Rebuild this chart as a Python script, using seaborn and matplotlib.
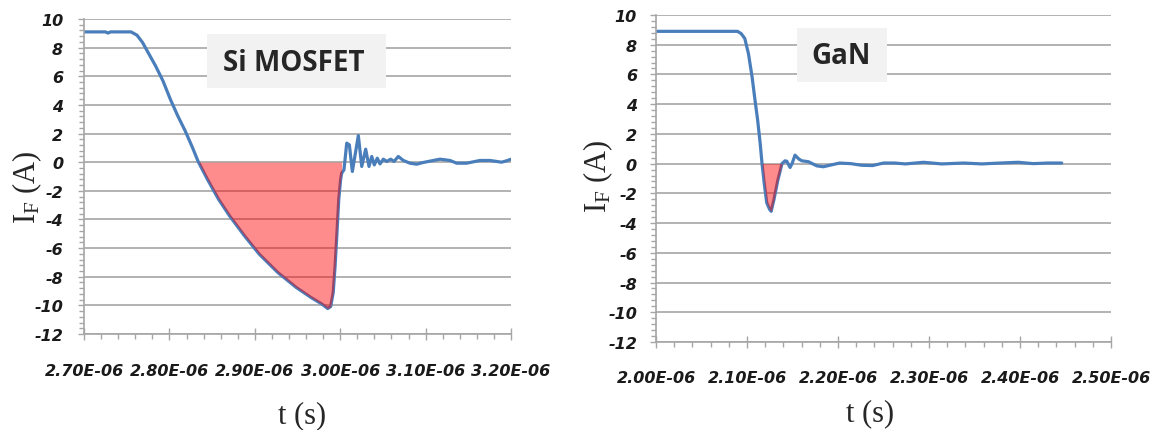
import numpy as np
import pandas as pd
import seaborn as sns
import matplotlib
matplotlib.use('Agg')
import matplotlib.pyplot as plt
from matplotlib.ticker import MultipleLocator, FuncFormatter
from matplotlib.patches import Rectangle

# ---- data (time in microseconds, current in A) ----
si_t = [2.700, 2.725, 2.728, 2.731, 2.755, 2.762, 2.7685, 2.775, 2.7837, 2.7924,
        2.801, 2.8097, 2.8184, 2.827, 2.8336, 2.8444, 2.8574, 2.8704, 2.8878, 2.9051,
        2.9268, 2.9485, 2.9658, 2.9788, 2.9853, 2.9888, 2.9918, 2.994, 2.9962, 2.9983,
        3.0005, 3.0017, 3.0044, 3.0076, 3.0107, 3.0142, 3.0212, 3.0252, 3.0298, 3.0337,
        3.0369, 3.0399, 3.0434, 3.0466, 3.0505, 3.0545, 3.0591, 3.063, 3.068, 3.0739,
        3.0817, 3.0896, 3.0973, 3.109, 3.1169, 3.1286, 3.1364, 3.148, 3.1637, 3.1754,
        3.189, 3.195, 3.2]
si_i = [9.10, 9.10, 9.02, 9.10, 9.10, 8.87, 8.36, 7.66, 6.73, 5.68,
        4.40, 3.24, 2.19, 1.02, 0.05, -1.19, -2.58, -3.75, -5.14, -6.42,
        -7.70, -8.75, -9.45, -9.92, -10.22, -10.08, -9.10, -7.24, -4.91, -2.58,
        -1.19, -0.77, -0.53, 1.33, 1.21, -0.65, 1.86, -0.30, 0.91, -0.30,
        0.40, -0.19, 0.28, -0.12, 0.21, 0.05, 0.21, 0.05, 0.40, 0.12,
        -0.07, -0.14, -0.02, 0.12, 0.21, 0.12, -0.07, -0.07, 0.12, 0.12,
        0.0, 0.10, 0.21]
si_fill = [2.8336, 3.0017]

gan_t = [2.000, 2.0895, 2.0935, 2.0975, 2.1015, 2.1055, 2.1087, 2.1116, 2.1144, 2.1164,
         2.1188, 2.1216, 2.1248, 2.1265, 2.1296, 2.1336, 2.1384, 2.1418, 2.1437, 2.1473,
         2.1497, 2.1527, 2.1569, 2.1601, 2.1674, 2.1766, 2.1838, 2.1938, 2.2018, 2.2139,
         2.2259, 2.238, 2.25, 2.262, 2.274, 2.294, 2.314, 2.338, 2.358, 2.378,
         2.398, 2.4145, 2.4306, 2.4458]
gan_i = [8.90, 8.90, 8.75, 8.42, 7.41, 5.85, 4.29, 2.95, 1.38, 0.04,
         -1.29, -2.63, -3.08, -3.21, -2.41, -1.18, 0.0, 0.19, 0.16, -0.26,
         0.04, 0.57, 0.31, 0.19, 0.13, -0.15, -0.21, -0.07, 0.04, 0.0,
         -0.11, -0.13, 0.04, 0.04, -0.02, 0.09, -0.02, 0.04, -0.02, 0.04,
         0.09, 0.0, 0.04, 0.04]
gan_fill = [2.1164, 2.1384]

si_xlim = [2.70, 3.20]
gan_xlim = [2.00, 2.50]
y_lim = [-12, 10]

sns.set_style("white")
plt.rcParams['axes.unicode_minus'] = False
plt.rcParams['mathtext.fontset'] = 'custom'
plt.rcParams['mathtext.rm'] = 'Liberation Serif'
plt.rcParams['font.family'] = ['DejaVu Sans']

GRID = '#A6A6A6'
LINE = '#4A7EBB'


def draw_panel(ax, t_us, cur, fill_rng, xlim, name, box, text_xy, xlab_xy, ylab_xy, xpad, ypad):
    t_us = np.array(t_us)
    df = pd.DataFrame({'t': t_us * 1e-6, 'i': cur})
    sns.lineplot(data=df, x='t', y='i', ax=ax, color=LINE, linewidth=2.3,
                 sort=False, estimator=None)
    # shaded reverse-recovery charge
    mask = (t_us >= fill_rng[0]) & (t_us <= fill_rng[1])
    ax.fill_between(df['t'], df['i'], 0, where=mask, color='red', alpha=0.45,
                    lw=0, zorder=3)

    ax.set_xlim(xlim[0] * 1e-6, xlim[1] * 1e-6)
    ax.set_ylim(*y_lim)
    ax.xaxis.set_major_locator(MultipleLocator(0.1e-6))
    ax.xaxis.set_minor_locator(MultipleLocator(0.02e-6))
    ax.xaxis.set_major_formatter(FuncFormatter(lambda v, p: '{:.2E}'.format(v)))
    ax.yaxis.set_major_locator(MultipleLocator(2))
    ax.yaxis.set_minor_locator(MultipleLocator(0.4))

    ax.yaxis.grid(True, color=GRID, lw=1.2)
    ax.xaxis.grid(False)
    for s in ['top', 'right']:
        ax.spines[s].set_visible(False)
    for s in ['left', 'bottom']:
        ax.spines[s].set_color(GRID)
        ax.spines[s].set_linewidth(1.2)

    ax.tick_params(axis='y', which='major', direction='out', length=4.5, width=1,
                   color=GRID, pad=ypad, labelsize=11.5, left=True)
    ax.tick_params(axis='y', which='minor', direction='out', length=3.6, width=1,
                   color=GRID, left=True)
    ax.tick_params(axis='x', which='major', direction='inout', length=8.6, width=1,
                   color=GRID, pad=xpad, labelsize=11.5, bottom=True)
    ax.tick_params(axis='x', which='minor', direction='out', length=3.6, width=1,
                   color=GRID, bottom=True)
    plt.setp(ax.get_xticklabels() + ax.get_yticklabels(), fontweight='bold',
             fontstyle='italic', color='#1A1A1A')

    ax.set_xlabel('t (s)', fontsize=22, family='Liberation Serif')
    ax.set_ylabel(r'$\mathrm{I_F}$ (A)', fontsize=22, family='Liberation Serif')
    ax.xaxis.set_label_coords(*xlab_xy)
    ax.yaxis.set_label_coords(*ylab_xy)
    ax.xaxis.label.set_va('center')
    ax.yaxis.label.set_va('center')

    # device name box
    ax.add_patch(Rectangle((box[0], box[1]), box[2], box[3], transform=ax.transAxes,
                           facecolor='#F2F2F2', edgecolor='none', zorder=2.5))
    ax.text(text_xy[0], text_xy[1], name, transform=ax.transAxes, ha='center',
            va='center', fontsize=20, fontweight='bold', family='Open Sans', zorder=4)


fig = plt.figure(figsize=(11.53, 4.31), dpi=100)
ax1 = fig.add_axes([0.0729, 0.2227, 0.3703, 0.7309])
ax2 = fig.add_axes([0.5690, 0.2042, 0.3946, 0.7587])

draw_panel(ax1, si_t, si_i, si_fill, si_xlim, 'Si MOSFET',
           [0.289, 0.780, 0.418, 0.172], [0.490, 0.8625],
           [0.51, -0.257], [-0.133, 0.47], 16.5, 10.5)
draw_panel(ax2, gan_t, gan_i, gan_fill, gan_xlim, 'GaN',
           [0.309, 0.795, 0.198, 0.165], [0.4077, 0.876],
           [0.47, -0.217], [-0.128, 0.51], 16, 9.2)

fig.savefig('out.png', dpi=100)
